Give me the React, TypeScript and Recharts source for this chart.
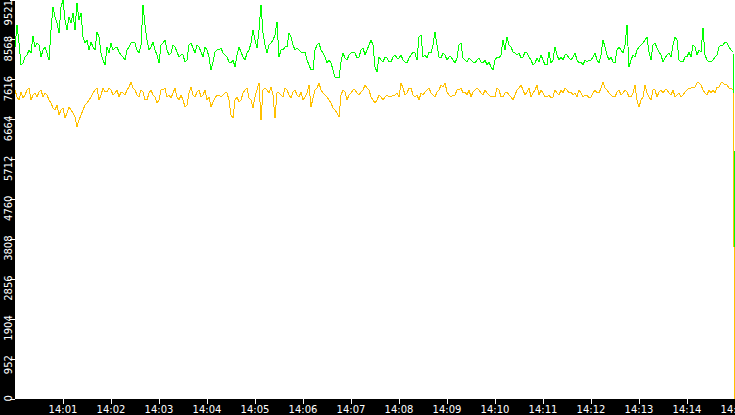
import { LineChart, Line, XAxis, YAxis, CartesianGrid } from 'recharts';

// one sample every 2.5 seconds from 14:00:00
const SAMPLE_SECONDS = 2.5;

const greenValues = [
  // 14:00:00 - 14:02:30
  8400, 8925, 8495, 7970, 8018, 8161, 8209, 8328, 8256, 8662, 8400, 8495, 8447, 8161, 8328, 8400, 8256, 8089, 8805, 9354,
  9115, 8972, 8734, 9354, 9521, 9044, 8805, 9115, 8972, 9211, 8805, 9449, 9044, 9211, 8638, 8495, 8567, 8328, 8519, 8400,
  8328, 8758, 8638, 8256, 8089, 7970, 8400, 8256, 8495, 8328, 8376, 8400, 8280, 8209, 8161, 8089, 8328, 8400, 8495, 8519,
  // 14:02:30 - 14:05:00
  8495, 8328, 8256, 8447, 9402, 8925, 8567, 8328, 8400, 8519, 8328, 8209, 8018, 8447, 8495, 8567, 8328, 8209, 8256, 8447,
  8400, 8280, 8161, 8209, 8209, 8042, 8089, 8447, 8495, 8376, 8256, 8447, 8400, 8280, 8161, 8400, 8328, 8161, 7851, 8042,
  8280, 8328, 8328, 8376, 8256, 8209, 8161, 8042, 8018, 8089, 7922, 8209, 8400, 8280, 8161, 8089, 8256, 8328, 8495, 8805,
  // 14:05:00 - 14:07:30
  8567, 8376, 8805, 9402, 8734, 8447, 8256, 8447, 8495, 8567, 8686, 8996, 8161, 8328, 8328, 8400, 8400, 8734, 8638, 8447,
  8328, 8376, 8328, 8280, 8256, 8280, 8089, 7970, 7851, 7851, 8328, 8447, 8495, 8328, 8256, 8161, 8018, 8089, 8018, 7851,
  7684, 7660, 7660, 8042, 8256, 8137, 8089, 8209, 8256, 8280, 8256, 8137, 8161, 8328, 8376, 8209, 8328, 8447, 8567, 8447,
  // 14:07:30 - 14:10:00
  7922, 7803, 8161, 8089, 8042, 8161, 8137, 8042, 8042, 8161, 8209, 8137, 8137, 8209, 8089, 8042, 8018, 8137, 8209, 8280,
  8256, 8089, 8638, 8686, 8161, 8209, 8137, 8280, 8256, 8447, 8758, 8447, 8161, 8137, 8256, 8209, 8089, 8161, 8161, 8089,
  8018, 8137, 8447, 8495, 8137, 8089, 8042, 8137, 8089, 8042, 8018, 8089, 8137, 8042, 8018, 8089, 7970, 8042, 7922, 7851,
  // 14:10:00 - 14:12:30
  8089, 8161, 8137, 8209, 8567, 8328, 8638, 8447, 8400, 8280, 8256, 8209, 8256, 8137, 8161, 8280, 8256, 8161, 8089, 7970,
  8018, 8137, 8042, 8209, 8089, 7970, 7970, 8280, 8018, 8089, 8400, 8209, 8089, 8161, 8089, 8209, 8209, 8137, 8089, 8161,
  8256, 8089, 8018, 8042, 7970, 8089, 8042, 8089, 8089, 8161, 8256, 8089, 8018, 8209, 8567, 8400, 8209, 8089, 8161, 8042,
  // 14:12:30 - 14:15:00
  8018, 8328, 8400, 8328, 8256, 8447, 8925, 7922, 8089, 8209, 8161, 8328, 8400, 8447, 8495, 8567, 8638, 8280, 8089, 8447,
  8495, 8376, 8280, 8209, 8042, 8137, 8209, 8256, 8161, 8447, 8638, 8567, 8089, 8042, 8042, 8161, 8161, 8280, 8161, 8447,
  8400, 8209, 8328, 8280, 8853, 8209, 8089, 8042, 8042, 8089, 8161, 8209, 8400, 8447, 8447, 8519, 8495, 8400, 8328, 8280,
];

const yellowValues = [
  7374, 7207, 7135, 7326, 7183, 7254, 7374, 7421, 7135, 7254, 7302, 7207, 7326, 7374, 7207, 7302, 7254, 7135, 7064, 6944,
  6896, 7016, 6777, 6896, 6944, 6706, 6825, 6968, 6896, 6825, 6729, 6491, 6658, 6777, 6896, 7016, 7064, 7135, 7207, 7302,
  7374, 7421, 7135, 7254, 7421, 7326, 7326, 7421, 7374, 7254, 7302, 7374, 7207, 7326, 7302, 7254, 7374, 7445, 7565, 7421,

  7374, 7254, 7207, 7374, 7326, 7135, 7135, 7302, 7374, 7254, 7207, 7064, 7135, 7374, 7374, 7421, 7207, 7254, 7183, 7302,
  7421, 7207, 7135, 7254, 7135, 6968, 7016, 7302, 7445, 7254, 7207, 7326, 7374, 7207, 7254, 7374, 7135, 7207, 6968, 7087,
  7183, 7254, 7254, 7207, 7254, 7302, 7302, 7135, 6777, 6706, 7135, 7207, 7087, 7135, 7302, 7374, 7421, 7183, 7135, 6944,

  7207, 7374, 7541, 6658, 7374, 7421, 7374, 7302, 7445, 7254, 6706, 7302, 7302, 7254, 7207, 7421, 7374, 7254, 7183, 7326,
  7374, 7254, 7207, 7326, 7135, 7207, 7302, 7493, 6968, 7183, 7374, 7421, 7541, 7374, 7302, 7254, 7207, 7135, 7064, 6944,
  6896, 6825, 6729, 7254, 7374, 7326, 7135, 7254, 7302, 7374, 7374, 7302, 7254, 7326, 7374, 7493, 7421, 7374, 7207, 7135,

  7064, 7135, 7254, 7207, 7135, 7207, 7254, 7207, 7207, 7254, 7254, 7302, 7207, 7541, 7421, 7254, 7302, 7421, 7421, 7254,
  7207, 7254, 7135, 7302, 7254, 7326, 7374, 7421, 7302, 7254, 7207, 7326, 7374, 7493, 7445, 7541, 7326, 7254, 7207, 7254,
  7254, 7374, 7374, 7421, 7302, 7326, 7254, 7374, 7207, 7326, 7374, 7421, 7374, 7302, 7254, 7374, 7302, 7254, 7207, 7207,

  7207, 7421, 7374, 7207, 7207, 7302, 7326, 7254, 7207, 7135, 7254, 7374, 7421, 7493, 7374, 7254, 7326, 7421, 7207, 7302,
  7374, 7493, 7254, 7374, 7302, 7207, 7207, 7254, 7183, 7207, 7374, 7302, 7254, 7374, 7302, 7421, 7374, 7302, 7326, 7254,
  7302, 7207, 7374, 7302, 7207, 7254, 7254, 7183, 7207, 7302, 7374, 7302, 7302, 7421, 7565, 7421, 7374, 7302, 7254, 7207,

  7207, 7326, 7374, 7254, 7302, 7374, 7326, 7207, 7207, 7302, 7493, 7135, 6968, 7135, 7207, 7493, 7302, 7207, 7135, 7374,
  7374, 7207, 7326, 7374, 7302, 7374, 7374, 7302, 7254, 7374, 7207, 7254, 7302, 7207, 7254, 7326, 7374, 7421, 7421, 7445,
  7445, 7541, 7541, 7493, 7374, 7302, 7254, 7374, 7302, 7374, 7302, 7445, 7445, 7541, 7541, 7493, 7493, 7421, 7421, 7374,
];

// final reading at 14:15:00 where both series fall off
const tailSeconds = [900];
const tailGreen = [3610];
const tailYellow = [0];

const minuteTicks = [60, 120, 180, 240, 300, 360, 420, 480, 540, 600, 660, 720, 780, 840, 900];
const minuteLabels = ['14:01', '14:02', '14:03', '14:04', '14:05', '14:06', '14:07', '14:08', '14:09', '14:10', '14:11', '14:12', '14:13', '14:14', '14:15'];
const valueTicks = [0, 952, 1904, 2856, 3808, 4760, 5712, 6664, 7616, 8568, 9521];

const data = [
  ...greenValues.map((g, i) => ({ t: i * SAMPLE_SECONDS, green: g, yellow: yellowValues[i] })),
  ...tailSeconds.map((t, i) => ({ t, green: tailGreen[i], yellow: tailYellow[i] })),
];

const AXIS_FONT = '"DejaVu Sans", Verdana, sans-serif';

const ValueTick = (props: any) => {
  const { y, payload } = props;
  const ay = Math.max(y - 4, 0);
  return (
    <text
      x={12}
      y={ay}
      transform={`rotate(-90, 12, ${ay})`}
      textAnchor="end"
      fill="#fff"
      fontSize={10}
      fontFamily={AXIS_FONT}
    >
      {payload.value}
    </text>
  );
};

const App = () => (
  <div style={{ position: 'absolute', left: 0, top: 0, width: 735, height: 415, background: '#000' }}>
    <LineChart
      width={735}
      height={415}
      data={data}
      margin={{ top: 0, right: 0, bottom: 0, left: 0 }}
      style={{ shapeRendering: 'crispEdges' }}
    >
      <CartesianGrid fill="#fff" horizontal={false} vertical={false} />
      <XAxis
        dataKey="t"
        type="number"
        domain={[0, 900]}
        ticks={minuteTicks}
        interval={0}
        tickFormatter={(v: number) => minuteLabels[minuteTicks.indexOf(v)]}
        height={16}
        axisLine={false}
        tickSize={5}
        tickLine={{ stroke: '#fff' }}
        tick={{ fill: '#fff', fontSize: 10, fontFamily: AXIS_FONT }}
        allowDataOverflow
      />
      <YAxis
        type="number"
        domain={[0, 9521]}
        ticks={valueTicks}
        interval={0}
        width={15}
        axisLine={false}
        tickSize={5}
        tickLine={{ stroke: '#fff' }}
        tick={<ValueTick />}
        allowDataOverflow
      />
      <Line type="linear" dataKey="green" stroke="#00ff00" strokeWidth={1} dot={false} isAnimationActive={false} />
      <Line type="linear" dataKey="yellow" stroke="#ffc000" strokeWidth={1} dot={false} isAnimationActive={false} />
    </LineChart>
  </div>
);

export default App;
